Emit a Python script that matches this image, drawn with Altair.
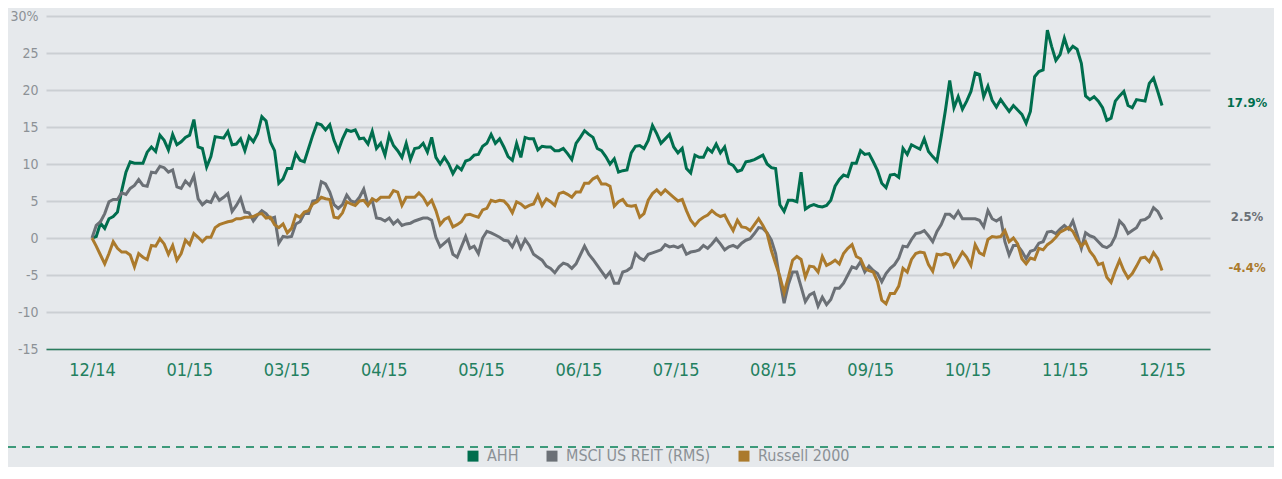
import altair as alt
import pandas as pd

SERIES = ["AHH", "MSCI US REIT (RMS)", "Russell 2000"]
COLORS = ["#006e4e", "#6b7076", "#ab7a2c"]
TICK_LABELS = ["12/14", "01/15", "03/15", "04/15", "05/15", "06/15",
               "07/15", "08/15", "09/15", "10/15", "11/15", "12/15"]
END_LABELS = ["17.9%", "2.5%", "-4.4%"]
Y_TICKS = [-15, -10, -5, 0, 5, 10, 15, 20, 25, 30]

# cumulative total return (%) per trading day
ahh = [
    0.0, 0.2, 2.0, 1.3, 2.6, 2.9, 3.5, 6.4, 8.9, 10.3,
    10.1, 10.1, 10.1, 11.6, 12.3, 11.7, 13.9, 13.2, 11.9, 14.0,
    12.6, 13.0, 13.6, 13.9, 16.0, 12.3, 12.1, 9.6, 11.0, 13.7,
    13.6, 13.5, 14.4, 12.6, 12.7, 13.4, 11.8, 13.7, 13.0, 14.1,
    16.4, 15.8, 13.0, 11.8, 7.4, 8.0, 9.4, 9.4, 11.4, 10.5,
    10.3, 12.1, 13.9, 15.5, 15.3, 14.6, 15.3, 13.2, 11.8, 13.4,
    14.6, 14.4, 14.6, 13.4, 13.5, 12.7, 14.4, 12.1, 12.8, 11.2,
    13.9, 12.5, 11.8, 10.9, 12.8, 10.6, 12.1, 12.2, 12.8, 11.6,
    13.6, 10.9, 10.0, 10.9, 10.0, 8.7, 9.7, 9.2, 10.4, 10.6,
    11.2, 11.3, 12.4, 12.8, 14.0, 12.8, 13.4, 12.3, 11.0, 10.5,
    12.8, 10.9, 13.6, 13.4, 13.4, 11.9, 12.4, 12.3, 12.3, 11.8,
    11.8, 12.1, 11.4, 10.6, 12.8, 13.6, 14.5, 14.0, 13.6, 12.1,
    11.8, 11.0, 10.0, 10.7, 8.9, 9.1, 9.2, 11.5, 12.4, 12.5,
    12.1, 13.2, 15.2, 14.1, 12.8, 13.4, 14.0, 12.3, 11.5, 12.1,
    9.4, 8.8, 11.2, 10.9, 10.9, 12.1, 11.6, 12.7, 11.5, 12.3,
    10.1, 9.8, 9.0, 9.2, 10.3, 10.4, 10.6, 10.9, 11.2, 10.0,
    9.5, 9.4, 4.5, 3.6, 5.1, 5.1, 4.9, 8.9, 3.9, 4.3,
    4.5, 4.3, 4.2, 4.4, 5.1, 7.0, 7.9, 8.5, 8.3, 10.1,
    10.1, 11.8, 11.3, 11.4, 10.3, 9.1, 7.4, 6.8, 8.5, 8.6,
    8.2, 12.1, 11.3, 12.6, 12.3, 12.0, 13.4, 11.7, 11.0, 10.4,
    13.7, 17.3, 21.3, 17.6, 19.1, 17.4, 18.5, 19.8, 22.3, 22.1,
    19.1, 20.5, 18.6, 17.7, 18.7, 17.9, 17.1, 17.9, 17.3, 16.7,
    15.5, 17.1, 21.8, 22.5, 22.7, 28.1, 25.9, 24.0, 24.8, 27.0,
    25.2, 25.9, 25.5, 23.6, 19.2, 18.7, 19.1, 18.5, 17.6, 15.9,
    16.2, 18.5, 19.2, 19.8, 17.9, 17.6, 18.7, 18.6, 18.5, 20.9,
    21.6, 19.8, 17.9,
]

reit = [
    0.0, 1.7, 2.2, 3.3, 4.9, 5.2, 5.2, 6.1, 5.9, 6.7,
    7.1, 7.9, 7.1, 7.0, 8.9, 8.8, 9.7, 9.5, 8.9, 9.2,
    6.9, 6.7, 7.7, 7.1, 8.4, 5.3, 4.5, 5.0, 4.8, 6.0,
    5.1, 5.5, 6.0, 3.6, 4.4, 5.4, 3.5, 3.4, 2.3, 3.1,
    3.7, 3.3, 2.6, 2.8, -0.7, 0.2, 0.1, 0.2, 1.9, 2.2,
    3.3, 3.3, 5.0, 5.1, 7.6, 7.3, 6.2, 4.5, 4.0, 4.5,
    5.8, 5.0, 4.8, 5.5, 6.6, 4.5, 5.1, 2.7, 2.6, 2.3,
    2.7, 1.9, 2.4, 1.7, 1.9, 2.0, 2.3, 2.5, 2.7, 2.7,
    2.4, 0.1, -1.2, -0.7, -0.2, -2.2, -2.6, -1.2, 0.2, -1.4,
    -1.1, -2.1, 0.0, 0.9, 0.7, 0.4, 0.1, -0.3, -0.4, -1.2,
    0.0, -1.4, -0.2, -1.0, -2.2, -2.6, -3.0, -3.8, -4.1, -4.7,
    -3.9, -3.4, -3.6, -4.1, -3.5, -2.3, -1.1, -2.2, -2.9, -3.7,
    -4.5, -5.3, -4.6, -6.1, -6.1, -4.6, -4.4, -4.0, -2.1, -2.7,
    -3.0, -2.2, -2.0, -1.8, -1.6, -0.9, -1.2, -1.1, -1.3, -1.0,
    -2.2, -1.9, -1.8, -1.6, -1.0, -1.4, -0.8, -0.1, -0.8, -1.6,
    -1.2, -1.0, -1.3, -0.7, -0.3, -0.1, 0.6, 1.4, 1.3, 0.7,
    -0.3, -2.1, -5.7, -8.8, -6.3, -4.6, -4.6, -6.6, -8.6, -7.7,
    -7.4, -9.2, -8.0, -9.0, -8.3, -6.8, -6.8, -6.1, -5.0, -3.9,
    -4.1, -3.2, -4.6, -3.8, -4.4, -4.8, -5.9, -4.8, -4.1, -3.6,
    -2.7, -1.1, -1.2, -0.2, 0.6, 0.7, 1.0, 0.3, -0.5, 0.9,
    1.8, 3.2, 3.2, 2.7, 3.6, 2.6, 2.6, 2.6, 2.6, 2.4,
    1.5, 3.7, 2.6, 2.3, 2.7, -0.5, -2.3, -1.0, -1.0, -1.8,
    -2.8, -1.8, -1.6, -0.7, -0.5, 0.8, 0.9, 0.6, 1.2, 1.7,
    1.2, 2.3, 0.5, -1.4, 0.7, 0.3, 0.1, -0.5, -1.1, -1.3,
    -0.9, 0.2, 2.3, 1.7, 0.6, 1.0, 1.4, 2.4, 2.5, 2.9,
    4.1, 3.6, 2.5,
]

russell = [
    0.0, -1.1, -2.3, -3.5, -2.1, -0.5, -1.4, -1.9, -1.9, -2.3,
    -3.9, -2.1, -2.6, -2.9, -1.0, -1.1, -0.1, -0.8, -2.2, -1.0,
    -3.0, -2.1, -0.3, -0.9, 0.6, 0.1, -0.5, 0.1, 0.1, 1.4,
    1.8, 2.0, 2.2, 2.3, 2.6, 2.6, 2.8, 2.8, 2.9, 3.2,
    3.3, 2.7, 2.8, 1.8, 1.4, 1.9, 0.7, 1.3, 3.1, 2.8,
    3.5, 3.7, 4.6, 4.9, 5.5, 5.3, 5.2, 2.8, 2.7, 3.4,
    4.9, 4.6, 4.4, 5.0, 5.1, 4.4, 5.3, 5.0, 5.5, 5.5,
    5.5, 6.4, 6.2, 4.4, 5.5, 5.5, 5.5, 6.1, 5.5, 4.5,
    5.1, 3.7, 1.8, 2.5, 2.8, 1.5, 1.8, 2.2, 3.1, 3.2,
    3.0, 2.8, 3.8, 4.0, 5.1, 4.9, 5.1, 5.0, 4.4, 3.4,
    4.9, 4.6, 4.1, 4.4, 4.6, 5.8, 4.4, 5.3, 4.9, 4.4,
    6.0, 6.2, 5.9, 5.5, 6.2, 6.2, 7.4, 7.4, 8.0, 8.3,
    7.3, 7.3, 7.0, 4.3, 4.9, 5.2, 4.4, 4.3, 4.4, 2.8,
    3.3, 5.1, 6.0, 6.5, 5.9, 6.5, 6.0, 5.5, 5.0, 5.2,
    3.7, 2.4, 1.7, 2.4, 2.8, 3.1, 3.7, 3.2, 2.9, 3.1,
    2.0, 1.0, 2.4, 1.5, 1.4, 1.0, 1.8, 2.6, 1.7, 0.6,
    -1.7, -3.5, -5.2, -7.4, -5.3, -3.0, -2.5, -2.9, -5.3, -3.8,
    -3.9, -4.6, -2.5, -3.7, -3.4, -3.0, -3.5, -2.1, -1.4, -0.9,
    -2.5, -2.8, -4.1, -4.4, -4.6, -5.9, -8.4, -8.9, -7.5, -7.5,
    -6.5, -4.1, -4.6, -2.9, -2.1, -1.9, -2.0, -3.6, -4.5, -2.2,
    -2.3, -2.1, -2.3, -3.8, -2.9, -1.9, -2.6, -3.7, -0.9, -2.0,
    -2.3, -0.2, 0.2, 0.1, 0.2, 1.0, -0.5, 0.0, -0.8, -2.8,
    -3.5, -2.7, -2.9, -1.4, -1.6, -0.9, -0.5, 0.1, 0.8, 1.1,
    1.4, 0.9, -0.2, -1.1, -0.5, -1.8, -2.5, -3.6, -3.4, -5.3,
    -6.0, -4.4, -3.0, -4.4, -5.4, -4.8, -3.8, -2.7, -2.6, -3.2,
    -2.0, -2.8, -4.4,
]

assert len(ahh) == len(reit) == len(russell) == 253

days = list(range(len(ahh)))
last_day = days[-1]
df = pd.DataFrame({
    "day": days * 3,
    "value": ahh + reit + russell,
    "series": [s for s in SERIES for _ in days],
})
end_df = pd.DataFrame({
    "series": SERIES,
    "day": [last_day] * 3,
    "value": [ahh[-1], reit[-1], russell[-1]],
    "label": END_LABELS,
})

FONT = "DejaVu Sans Condensed, Roboto, sans-serif"
n_int = len(TICK_LABELS) - 1
tick_vals = [i * last_day / n_int for i in range(len(TICK_LABELS))]
label_expr = ("[" + ",".join(f"'{t}'" for t in TICK_LABELS) + "]"
              f"[round(datum.value*{n_int}/{last_day})]")

color_scale = alt.Scale(domain=SERIES, range=COLORS)
x_scale = alt.Scale(domain=[-10.83, 263.3], nice=False, zero=False)
y_scale = alt.Scale(domain=[-15, 30], nice=False, zero=False)

x_axis = alt.Axis(
    values=tick_vals, tickCount=len(tick_vals), labelExpr=label_expr,
    title=None, grid=False, ticks=False, tickSize=0,
    domainColor="#2a7d5e", domainWidth=1.5,
    labelColor="#23805f", labelFont=FONT, labelFontSize=18,
    labelPadding=12, labelFlush=False, labelOverlap=False)
y_axis = alt.Axis(
    values=Y_TICKS, tickCount=len(Y_TICKS),
    labelExpr="datum.value == 30 ? '30%' : '' + datum.value",
    title=None, domain=False, ticks=False, tickSize=0,
    gridColor="#cbcfd3", gridWidth=2, labelColor="#8c9196",
    labelFont=FONT, labelFontSize=14, labelPadding=8,
    labelOverlap=False)

lines = alt.Chart(df).mark_line(strokeWidth=3).encode(
    x=alt.X("day:Q", scale=x_scale, axis=x_axis),
    y=alt.Y("value:Q", scale=y_scale, axis=y_axis),
    color=alt.Color("series:N", scale=color_scale, legend=alt.Legend(
        orient="none", legendX=419, legendY=432, direction="horizontal",
        title=None, symbolType="square", symbolSize=30, symbolStrokeWidth=5.5,
        labelFont=FONT, labelFontSize=16, labelColor="#8c9196",
        labelOffset=6, columnPadding=19, labelLimit=300)),
)

end_text = alt.Chart(end_df).mark_text(
    font=FONT, fontSize=13, fontWeight="bold", align="center",
    baseline="middle", dx=85, dy=-3,
).encode(
    x=alt.X("day:Q", scale=x_scale, axis=x_axis),
    y=alt.Y("value:Q", scale=y_scale, axis=y_axis),
    text="label:N",
    color=alt.Color("series:N", scale=color_scale, legend=None),
)

divider = alt.Chart(pd.DataFrame({"r": [0]})).mark_rule(
    color="#3d9a7a", strokeWidth=2, strokeDash=[8, 6]
).encode(x=alt.value(-38), x2=alt.value(1228), y=alt.value(431))

chart = alt.layer(lines, end_text, divider).properties(
    width=1164, height=333,
    autosize=alt.AutoSizeParams(type="none"),
    padding={"left": 38, "top": 8, "right": 64, "bottom": 118},
    background="#e6e9ec",
).configure_view(stroke=None)

chart.save("out.html", embed_options={"renderer": "svg", "actions": False})
